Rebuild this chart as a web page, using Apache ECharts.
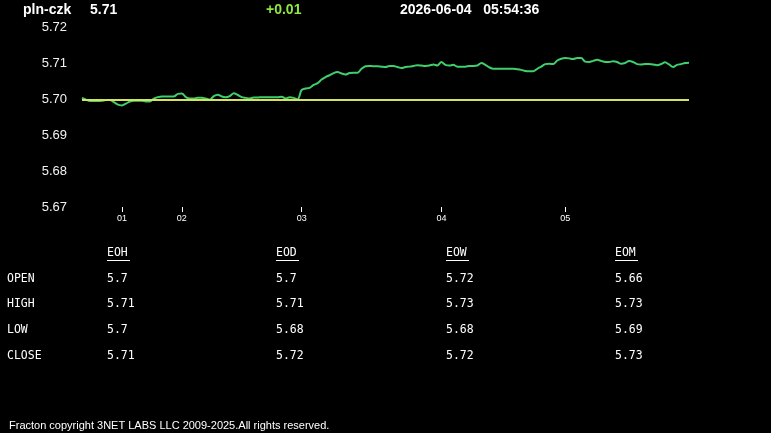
<!DOCTYPE html>
<html>
<head>
<meta charset="utf-8">
<title>pln-czk</title>
<script src="https://cdn.jsdelivr.net/npm/echarts@6/dist/echarts.min.js"></script>
<style>
html,body{margin:0;padding:0;background:#000;}
#main{width:771px;height:433px;}
</style>
</head>
<body>
<div id="main"></div>
<script type="text/javascript">
// price samples (left to right)
var prices = [
 5.7004,5.6999,5.6995,5.6995,5.6995,5.6996,5.6998,5.6998,5.6992,5.6985,
 5.6983,5.6988,5.6994,5.6996,5.6996,5.6996,5.6994,5.6994,5.7002,5.7006,
 5.7008,5.7008,5.7008,5.7008,5.7015,5.7016,5.7006,5.7002,5.7002,5.7004,
 5.7004,5.7002,5.6999,5.7009,5.7013,5.7008,5.7006,5.7009,5.7017,5.7012,
 5.7006,5.7004,5.7002,5.7005,5.7005,5.7006,5.7006,5.7006,5.7006,5.7006,
 5.7007,5.7002,5.7006,5.7004,5.7000,5.7026,5.7030,5.7032,5.7040,5.7045,
 5.7055,5.7062,5.7067,5.7073,5.7076,5.7072,5.7069,5.7073,5.7074,5.7074,
 5.7085,5.7092,5.7093,5.7092,5.7092,5.7091,5.7090,5.7093,5.7093,5.7090,
 5.7087,5.7090,5.7091,5.7093,5.7095,5.7094,5.7093,5.7094,5.7097,5.7094,
 5.7104,5.7096,5.7094,5.7096,5.7091,5.7091,5.7091,5.7093,5.7093,5.7094,
 5.7101,5.7096,5.7089,5.7085,5.7085,5.7085,5.7085,5.7085,5.7085,5.7084,
 5.7082,5.7079,5.7078,5.7078,5.7085,5.7091,5.7098,5.7099,5.7098,5.7108,
 5.7113,5.7115,5.7114,5.7112,5.7115,5.7115,5.7105,5.7104,5.7107,5.7110,
 5.7107,5.7104,5.7104,5.7106,5.7104,5.7099,5.7101,5.7107,5.7104,5.7098,
 5.7097,5.7098,5.7098,5.7097,5.7095,5.7098,5.7103,5.7097,5.7090,5.7096,
 5.7098,5.7101,5.7102
];
var openPrice = 5.7006;

// hour ticks: sample index -> label
var hourIdx = [10, 25, 55, 90, 121];
var hourLabels = ['01', '02', '03', '04', '05'];

var yTicks = [5.67, 5.68, 5.69, 5.70, 5.71, 5.72];

// header
var symbol = 'pln-czk';
var lastPrice = '5.71';
var change = '+0.01';
var stamp = '2026-06-04   05:54:36';

// summary table
var colNames = ['EOH', 'EOD', 'EOW', 'EOM'];
var rowNames = ['OPEN', 'HIGH', 'LOW', 'CLOSE'];
var eoh = ['5.7', '5.71', '5.7', '5.71'];
var eod = ['5.7', '5.71', '5.68', '5.72'];
var eow = ['5.72', '5.73', '5.68', '5.72'];
var eom = ['5.66', '5.73', '5.69', '5.73'];
var table = [eoh, eod, eow, eom];

var footer = 'Fracton copyright 3NET LABS LLC 2009-2025.All rights reserved.';

var cats = prices.map(function (p, i) { return i; });

var mono = '"DejaVu Sans Mono", monospace';
var colX = [107, 276, 446, 615];
var rowY = [279, 304, 330, 356];

var g = [];
// title line
g.push({type:'text', left:23, top:3, style:{text:symbol, fill:'#fff', font:'bold 14px "Liberation Sans", Arial'}});
g.push({type:'text', left:90, top:3, style:{text:lastPrice, fill:'#fff', font:'bold 14px "Liberation Sans", Arial'}});
g.push({type:'text', left:266, top:3, style:{text:change, fill:'#90e640', font:'bold 14px "Liberation Sans", Arial'}});
g.push({type:'text', left:400, top:3, style:{text:stamp, fill:'#fff', font:'bold 14px "Liberation Sans", Arial', whiteSpace:'pre'}});

// table headers + underline
colNames.forEach(function (c, j) {
    g.push({type:'text', x:colX[j], y:253.5, style:{text:c, fill:'#fff', font:'11.5px ' + mono, verticalAlign:'middle'}});
    g.push({type:'line', shape:{x1:colX[j], y1:260.5, x2:colX[j] + 23, y2:260.5}, style:{stroke:'#fff', lineWidth:1}});
});
rowNames.forEach(function (r, i) {
    g.push({type:'text', x:7, y:rowY[i] + 0.5, style:{text:r, fill:'#fff', font:'11.5px ' + mono, verticalAlign:'middle'}});
    table.forEach(function (col, j) {
        g.push({type:'text', x:colX[j], y:rowY[i] + 0.5, style:{text:col[i], fill:'#fff', font:'11.5px ' + mono, verticalAlign:'middle'}});
    });
});
g.push({type:'text', x:9, y:426, style:{text:footer, fill:'#fff', font:'11px "Liberation Sans", Arial', verticalAlign:'middle'}});

var option = {
    backgroundColor: '#000',
    animation: false,
    grid: {left: 82, right: 82, top: 27.5, bottom: 226},
    xAxis: {
        type: 'category',
        data: cats,
        boundaryGap: false,
        axisLine: {show: false},
        axisTick: {
            show: true, length: 5, lineStyle: {color: '#fff'},
            interval: function (i) { return hourIdx.indexOf(i) >= 0; }
        },
        axisLabel: {
            color: '#fff', fontSize: 9, fontFamily: '"Liberation Sans", Arial', margin: 7,
            interval: function (i) { return hourIdx.indexOf(i) >= 0; },
            formatter: function (v, i) {
                var k = hourIdx.indexOf(i);
                return k >= 0 ? hourLabels[k] : '';
            }
        },
        splitLine: {show: false}
    },
    yAxis: {
        type: 'value',
        min: yTicks[0],
        max: yTicks[yTicks.length - 1],
        interval: 0.01,
        axisLine: {show: false},
        axisTick: {show: false},
        splitLine: {show: false},
        axisLabel: {
            color: '#f2f2f2', fontSize: 13, fontFamily: '"Liberation Sans", Arial', margin: 15,
            formatter: function (v) { return v.toFixed(2); }
        }
    },
    series: [{
        type: 'line',
        data: prices,
        symbol: 'none',
        smooth: 0.3,
        lineStyle: {color: '#3fcf6c', width: 2},
        z: 3,
        markLine: {
            silent: true,
            symbol: 'none',
            label: {show: false},
            lineStyle: {color: '#d6e25a', width: 2, type: 'solid'},
            data: [{yAxis: openPrice}]
        }
    }],
    graphic: g
};

var myChart = echarts.init(document.getElementById('main'));
myChart.setOption(option);
</script>
</body>
</html>
